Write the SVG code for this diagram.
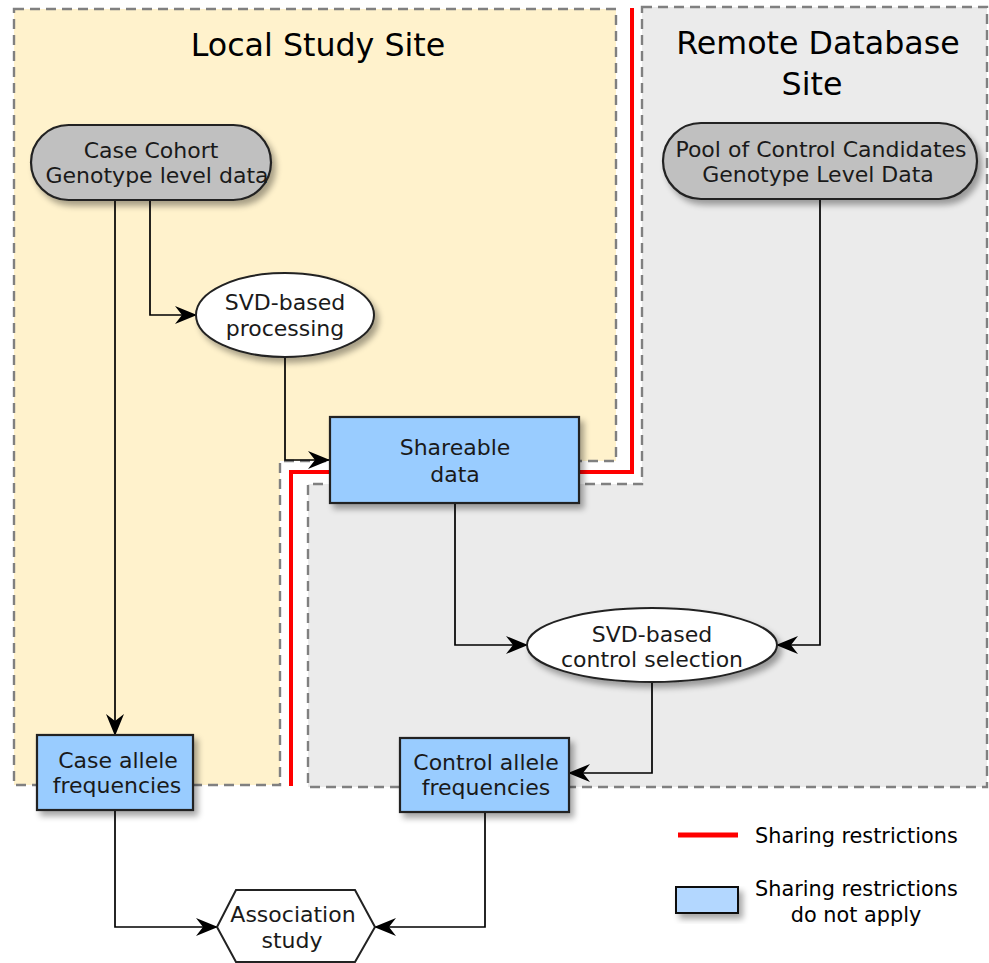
<svg xmlns="http://www.w3.org/2000/svg" width="989" height="963" viewBox="0 0 989 963">
<style>
  .txt { font-family: "DejaVu Sans", Verdana, sans-serif; font-size: 22px; fill: #1a1a1a; text-anchor: middle; }
  .title { font-family: "DejaVu Sans", Verdana, sans-serif; font-size: 31.7px; fill: #000; text-anchor: middle; }
  .leg { font-family: "DejaVu Sans", Verdana, sans-serif; font-size: 20.8px; fill: #000; }
  .region { stroke: #808080; stroke-width: 2.4; stroke-dasharray: 10 6; }
  .term { fill: #c0c0c0; stroke: #222; stroke-width: 2.2; }
  .proc { fill: #ffffff; stroke: #222; stroke-width: 2; }
  .share { fill: #99ccff; stroke: #222; stroke-width: 2.2; }
  .conn { fill: none; stroke: #000; stroke-width: 1.7; marker-end: url(#arr); }
</style>
<defs>
  <filter id="sh" x="-20%" y="-20%" width="150%" height="160%">
    <feGaussianBlur in="SourceAlpha" stdDeviation="3"/>
    <feOffset dx="4" dy="5" result="b"/>
    <feComponentTransfer><feFuncA type="linear" slope="0.35"/></feComponentTransfer>
    <feMerge><feMergeNode/><feMergeNode in="SourceGraphic"/></feMerge>
  </filter>
  <marker id="arr" viewBox="0 0 22 18" refX="21" refY="9" markerWidth="22" markerHeight="18" markerUnits="userSpaceOnUse" orient="auto">
    <path d="M0,0 L22,9 L0,18 L7,9 Z" fill="#000"/>
  </marker>
</defs>

<!-- regions -->
<g id="local-site">
  <path class="region" d="M14,9 L616,9 L616,461 L280,461 L280,785 L14,785 Z" fill="#fff2cc"/>
  <text class="title" x="318" y="56">Local Study Site</text>
</g>
<g id="remote-site">
  <path class="region" d="M642,7 L987,7 L987,787 L308,787 L308,484 L642,484 Z" fill="#ebebeb"/>
  <text class="title" x="818" y="54">Remote Database</text>
  <text class="title" x="812" y="95">Site</text>
</g>
<g id="restriction-line">
  <path d="M632,8 L632,472 L291,472 L291,786" fill="none" stroke="#ff0000" stroke-width="4"/>
</g>

<!-- connectors -->
<g id="connectors">
  <path class="conn" d="M115,200 L115,735"/>
  <path class="conn" d="M150,200 L150,315 L196,315"/>
  <path class="conn" d="M285,357 L285,460 L329,460"/>
  <path class="conn" d="M455,503 L455,645 L527,645"/>
  <path class="conn" d="M820,199 L820,645 L777,645"/>
  <path class="conn" d="M652,682 L652,773 L569,773"/>
  <path class="conn" d="M115,810 L115,927 L217,927"/>
  <path class="conn" d="M485,812 L485,927 L375,927"/>
</g>

<!-- nodes -->
<g id="case-cohort">
  <rect class="term" x="31" y="125" width="240" height="75" rx="37.5" ry="37.5" filter="url(#sh)"/>
  <text class="txt" x="151" y="158">Case Cohort</text>
  <text class="txt" x="157" y="183">Genotype level data</text>
</g>
<g id="control-pool">
  <rect class="term" x="663" y="123" width="314" height="76" rx="38" ry="38" filter="url(#sh)"/>
  <text class="txt" x="821" y="157">Pool of Control Candidates</text>
  <text class="txt" x="818" y="182">Genotype Level Data</text>
</g>
<g id="svd-processing">
  <ellipse class="proc" cx="285" cy="315" rx="89" ry="42" filter="url(#sh)"/>
  <text class="txt" x="285" y="310">SVD-based</text>
  <text class="txt" x="285" y="336">processing</text>
</g>
<g id="shareable-data">
  <rect class="share" x="330" y="417" width="249" height="86" filter="url(#sh)"/>
  <text class="txt" x="455" y="455">Shareable</text>
  <text class="txt" x="455" y="482">data</text>
</g>
<g id="svd-control-selection">
  <ellipse class="proc" cx="652" cy="645" rx="125" ry="37" filter="url(#sh)"/>
  <text class="txt" x="652" y="642">SVD-based</text>
  <text class="txt" x="652" y="667">control selection</text>
</g>
<g id="case-allele">
  <rect class="share" x="37" y="735" width="156" height="75" filter="url(#sh)"/>
  <text class="txt" x="118" y="768">Case allele</text>
  <text class="txt" x="117" y="793">frequencies</text>
</g>
<g id="control-allele">
  <rect class="share" x="400" y="738" width="169" height="74" filter="url(#sh)"/>
  <text class="txt" x="486" y="770">Control allele</text>
  <text class="txt" x="486" y="795">frequencies</text>
</g>
<g id="association-study">
  <path class="proc" d="M217,927 L236,890 L355,890 L375,927 L355,962 L236,962 Z"/>
  <text class="txt" x="293" y="922">Association</text>
  <text class="txt" x="292" y="948">study</text>
</g>

<!-- legend -->
<g id="legend">
  <line x1="678" y1="835" x2="738" y2="835" stroke="#ff0000" stroke-width="5"/>
  <text class="leg" x="755" y="843">Sharing restrictions</text>
  <rect x="676" y="887" width="62" height="26" fill="#b3d7ff" stroke="#111" stroke-width="2" filter="url(#sh)"/>
  <text class="leg" x="755" y="896">Sharing restrictions</text>
  <text class="leg" x="856" y="922" text-anchor="middle">do not apply</text>
</g>
</svg>
